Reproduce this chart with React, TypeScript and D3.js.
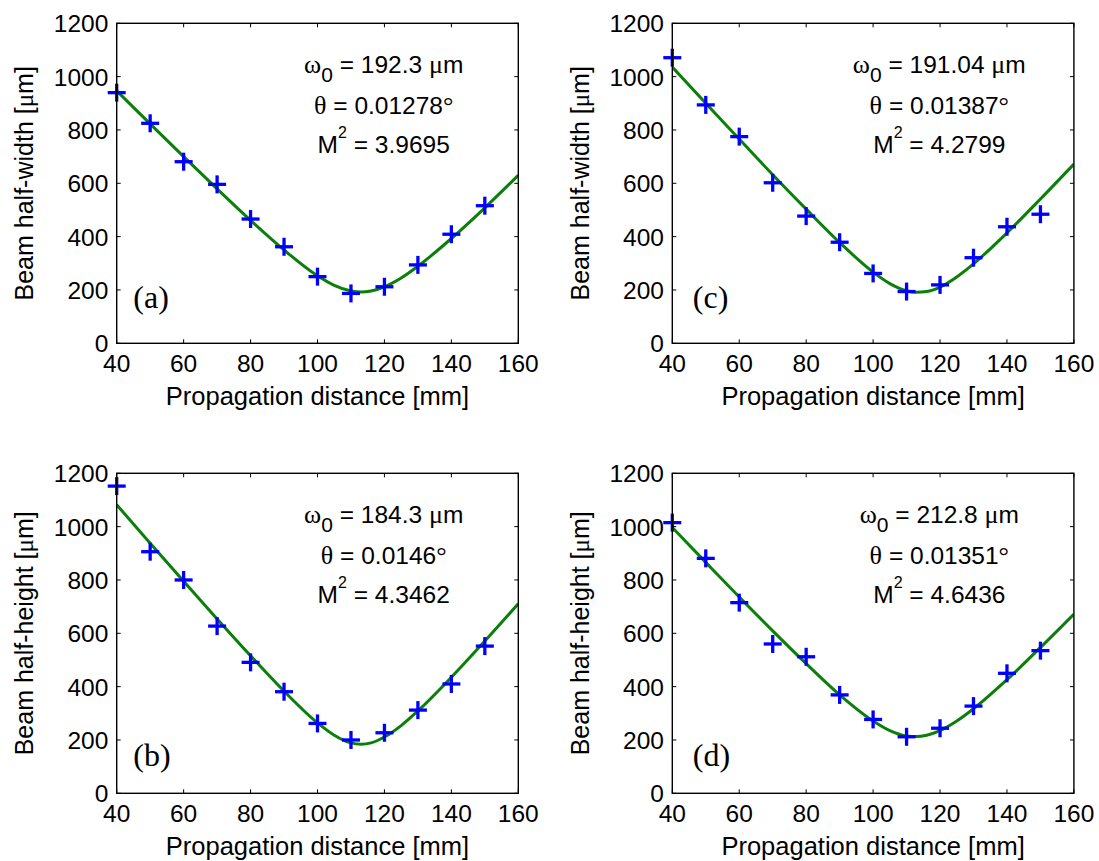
import React from "react";
import * as d3 from "d3";

// ---- data ----
const markerZ = [40, 50, 60, 70, 80, 90, 100, 110, 120, 130, 140, 150];
const markA = [940, 825, 681, 596, 466, 362, 250, 187, 212, 294, 409, 516];
const markB = [1152, 906, 800, 627, 491, 381, 262, 200, 227, 312, 410, 552];
const markC = [1071, 894, 775, 602, 477, 379, 262, 194, 219, 321, 437, 484];
const markD = [1015, 881, 715, 560, 512, 369, 277, 212, 244, 327, 450, 535];

const curveZ = [40, 50, 60, 70, 80, 90, 100, 105, 110, 113, 116, 120, 125, 130, 140, 150, 160];
const fitA = [947, 823, 700, 579, 461, 350, 253, 217, 196, 192, 196, 212, 245, 289, 393, 508, 630];
const fitB = [1082, 938, 795, 654, 516, 383, 264, 218, 189, 184, 189, 211, 254, 309, 435, 571, 711];
const fitC = [1036, 900, 766, 632, 503, 378, 267, 224, 197, 191, 194, 211, 249, 298, 414, 541, 672];
const fitD = [997, 866, 736, 609, 486, 369, 271, 235, 215, 213, 218, 235, 271, 317, 426, 547, 672];

const xTicks = [40, 60, 80, 100, 120, 140, 160];
const yTicks = [0, 200, 400, 600, 800, 1000, 1200];

const panelLetters = ["(a)", "(b)", "(c)", "(d)"];
const yLabels = ["Beam half-width [", "Beam half-height [", "Beam half-width [", "Beam half-height ["];
const w0Labels = ["192.3", "184.3", "191.04", "212.8"];
const thetaLabels = ["0.01278", "0.0146", "0.01387", "0.01351"];
const m2Labels = ["3.9695", "4.3462", "4.2799", "4.6436"];
const marks = [markA, markB, markC, markD];
const fits = [fitA, fitB, fitC, fitD];

// ---- layout ----
const W = 1099;
const H = 861;
const PW = 401.6;
const PH = 320;
const origins = [
  { x: 116.7, y: 23.3 },
  { x: 116.7, y: 473.3 },
  { x: 672.3, y: 23.3 },
  { x: 672.3, y: 473.3 },
];
const SANS = "Arial, 'Liberation Sans', Helvetica, sans-serif";
const SERIF = "'Times New Roman', 'Liberation Serif', Times, serif";

function Panel({ i }: { i: number }) {
  const o = origins[i];
  const x = d3.scaleLinear().domain([40, 160]).range([0, PW]);
  const y = d3.scaleLinear().domain([0, 1200]).range([PH, 0]);
  const line = d3
    .line<number>()
    .x((_, k) => x(curveZ[k]))
    .y((v) => y(v))
    .curve(d3.curveMonotoneX);
  const ms = 9;
  const isTop = i === 0 || i === 2;
  const letterX = i < 2 ? 16.6 : 20.5;
  const letterY = isTop ? PH - 35 : PH - 27;
  const cx = 267;
  return (
    <g transform={`translate(${o.x},${o.y})`}>
      <defs>
        <clipPath id={`clip${i}`}>
          <rect x={0} y={0} width={PW} height={PH} />
        </clipPath>
      </defs>
      <rect x={0} y={0} width={PW} height={PH} fill="white" />
      {/* fit curve */}
      <path
        d={line(fits[i]) || ""}
        fill="none"
        stroke="#0a7f0a"
        strokeWidth={3}
        clipPath={`url(#clip${i})`}
      />
      {/* markers */}
      {marks[i].map((v, k) => (
        <g key={k} transform={`translate(${x(markerZ[k])},${y(v)})`}>
          <line x1={-ms} x2={ms} y1={0} y2={0} stroke="#0000ff" strokeWidth={3.3} />
          <line x1={0} x2={0} y1={-ms} y2={ms} stroke="#0000ff" strokeWidth={3.3} />
        </g>
      ))}
      {/* axes box */}
      <rect x={0} y={0} width={PW} height={PH} fill="none" stroke="#000" strokeWidth={1.4} />
      {xTicks.map((t) => (
        <g key={`xt${t}`}>
          <line x1={x(t)} x2={x(t)} y1={PH} y2={PH - 4} stroke="#000" strokeWidth={1} />
          <line x1={x(t)} x2={x(t)} y1={0} y2={4} stroke="#000" strokeWidth={1} />
          <text
            x={x(t)}
            y={PH + 29}
            textAnchor="middle"
            fontFamily={SANS}
            fontSize={24.5}
            fill="#000"
          >
            {t}
          </text>
        </g>
      ))}
      {yTicks.map((t) => (
        <g key={`yt${t}`}>
          <line x1={0} x2={4} y1={y(t)} y2={y(t)} stroke="#000" strokeWidth={1} />
          <line x1={PW} x2={PW - 4} y1={y(t)} y2={y(t)} stroke="#000" strokeWidth={1} />
          <text
            x={-8.4}
            y={y(t) + 9}
            textAnchor="end"
            fontFamily={SANS}
            fontSize={24.5}
            fill="#000"
          >
            {t}
          </text>
        </g>
      ))}
      {/* axis labels */}
      <text
        x={PW / 2}
        y={PH + 61.7}
        textAnchor="middle"
        fontFamily={SANS}
        fontSize={25.5}
        fill="#000"
      >
        Propagation distance [mm]
      </text>
      <text
        transform={`translate(${33 - o.x + (i < 2 ? 0 : 555.6)},${PH / 2}) rotate(-90)`}
        textAnchor="middle"
        fontFamily={SANS}
        fontSize={25}
        fill="#000"
      >
        {yLabels[i]}
        <tspan fontFamily={SERIF}>μ</tspan>m]
      </text>
      {/* annotation */}
      <text x={cx} y={49.5} textAnchor="middle" fontFamily={SANS} fontSize={24.5} fill="#000">
        <tspan fontFamily={SERIF} fontSize={26}>ω</tspan>
        <tspan dy={9} fontSize={21}>0</tspan>
        <tspan dy={-9}>{` = ${w0Labels[i]} `}</tspan>
        <tspan fontFamily={SERIF} fontSize={26}>μ</tspan>m
      </text>
      <text x={cx} y={90.5} textAnchor="middle" fontFamily={SANS} fontSize={24.5} fill="#000">
        <tspan fontFamily={SERIF} fontSize={26}>θ</tspan>
        {` = ${thetaLabels[i]}`}
        <tspan fontFamily={SERIF} fontSize={26}>°</tspan>
      </text>
      <text x={cx} y={130} textAnchor="middle" fontFamily={SANS} fontSize={24.5} fill="#000">
        M<tspan dy={-15} fontSize={16}>2</tspan>
        <tspan dy={15}>{` = ${m2Labels[i]}`}</tspan>
      </text>
      {/* panel letter */}
      <text x={letterX} y={letterY} fontFamily={SERIF} fontSize={32} fill="#000">
        {panelLetters[i]}
      </text>
    </g>
  );
}

export default function App() {
  return (
    <svg
      width={W}
      height={H}
      viewBox={`0 0 ${W} ${H}`}
      style={{ position: "absolute", left: 0, top: 0, background: "#fff" }}
    >
      <rect x={0} y={0} width={W} height={H} fill="#fff" />
      {[0, 1, 2, 3].map((i) => (
        <Panel key={i} i={i} />
      ))}
    </svg>
  );
}
